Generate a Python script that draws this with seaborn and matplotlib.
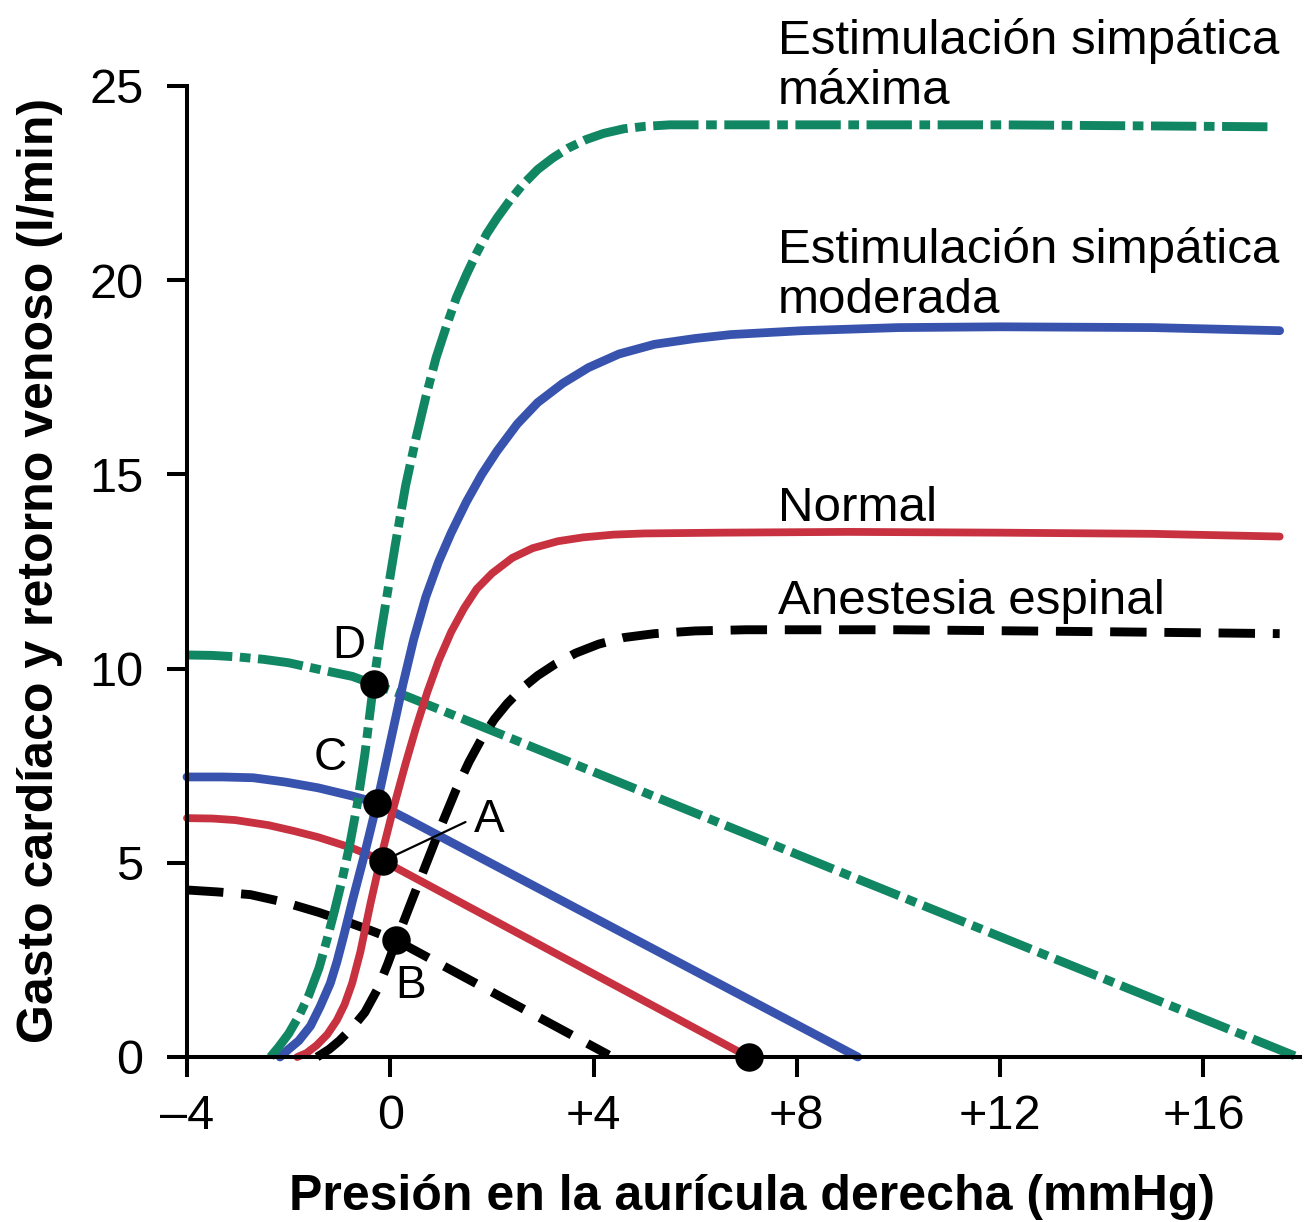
import matplotlib
matplotlib.use("Agg")
import matplotlib.pyplot as plt
import seaborn as sns
import pandas as pd

# ---------------- data ----------------
# Cardiac output curves (rising)
co_max_x = [-2.36, -2.2, -2.0, -1.8, -1.6, -1.4, -1.25, -1.1, -0.95, -0.8, -0.65, -0.5, -0.33, -0.2, -0.05, 0.1, 0.3, 0.5, 0.7, 0.9, 1.1, 1.3, 1.5, 1.7, 1.9, 2.1, 2.35, 2.6, 2.9, 3.2, 3.5, 3.85, 4.2, 4.6, 5.0, 5.5, 8.0, 12.0, 17.3]
co_max_y = [0.0, 0.25, 0.6, 1.05, 1.6, 2.3, 3.0, 3.75, 4.55, 5.45, 6.5, 7.8, 9.6, 10.8, 12.0, 13.2, 14.7, 15.9, 17.0, 18.0, 18.8, 19.55, 20.15, 20.7, 21.2, 21.6, 22.05, 22.45, 22.85, 23.15, 23.4, 23.62, 23.78, 23.9, 23.96, 24.0, 24.0, 24.0, 23.95]

co_mod_x = [-2.17, -2.0, -1.8, -1.57, -1.38, -1.18, -1.05, -0.92, -0.73, -0.53, -0.26, 0.0, 0.25, 0.46, 0.7, 0.95, 1.2, 1.5, 1.8, 2.1, 2.5, 2.9, 3.4, 3.9, 4.5, 5.2, 6.0, 6.7, 8.1, 10.0, 12.0, 15.0, 17.5]
co_mod_y = [0.0, 0.2, 0.42, 0.8, 1.3, 1.9, 2.45, 3.1, 4.1, 5.1, 6.54, 8.1, 9.6, 10.75, 11.85, 12.75, 13.5, 14.3, 15.0, 15.6, 16.3, 16.85, 17.35, 17.75, 18.1, 18.35, 18.5, 18.6, 18.7, 18.78, 18.8, 18.78, 18.7]

co_norm_x = [-1.83, -1.65, -1.45, -1.24, -1.05, -0.9, -0.75, -0.59, -0.39, -0.2, 0.06, 0.3, 0.5, 0.73, 0.95, 1.2, 1.45, 1.7, 2.0, 2.4, 2.8, 3.3, 3.8, 4.4, 5.0, 6.5, 9.0, 12.0, 15.0, 17.5]
co_norm_y = [0.0, 0.1, 0.3, 0.58, 0.95, 1.35, 1.9, 2.7, 3.95, 5.05, 6.4, 7.55, 8.45, 9.4, 10.2, 10.95, 11.55, 12.05, 12.45, 12.85, 13.1, 13.28, 13.38, 13.45, 13.48, 13.5, 13.52, 13.5, 13.47, 13.4]

co_spin_x = [-1.44, -1.2, -1.0, -0.75, -0.5, -0.25, -0.05, 0.12, 0.4, 0.7, 1.0, 1.3, 1.55, 1.8, 2.05, 2.3, 2.6, 2.9, 3.25, 3.65, 4.1, 4.6, 5.2, 6.0, 7.0, 10.0, 14.0, 17.5]
co_spin_y = [0.0, 0.2, 0.42, 0.75, 1.15, 1.75, 2.4, 3.0, 3.95, 4.95, 5.95, 6.9, 7.6, 8.2, 8.7, 9.1, 9.5, 9.82, 10.12, 10.4, 10.63, 10.8, 10.9, 10.97, 11.0, 11.0, 10.95, 10.9]

# Venous return curves (falling)
vr_max_x = [-4.0, -3.5, -3.0, -2.5, -2.0, -1.3, -0.75, -0.33, 0.3, 2.1, 5.7, 9.07, 17.85]
vr_max_y = [10.35, 10.34, 10.3, 10.24, 10.15, 9.95, 9.8, 9.6, 9.3, 8.35, 6.44, 4.65, 0.0]

vr_mod_x = [-4.0, -3.3, -2.7, -2.07, -1.42, -0.75, -0.5, -0.26, 0.0, 0.3, 9.2]
vr_mod_y = [7.21, 7.21, 7.19, 7.08, 6.93, 6.72, 6.63, 6.52, 6.35, 6.15, 0.0]

vr_norm_x = [-4.0, -3.5, -3.05, -2.4, -1.9, -1.42, -0.75, -0.14, 7.05]
vr_norm_y = [6.15, 6.14, 6.1, 5.97, 5.82, 5.66, 5.38, 5.05, 0.0]

vr_spin_x = [-4.0, -3.4, -2.75, -2.07, -1.4, -0.79, -0.35, 0.12, 4.3]
vr_spin_y = [4.3, 4.25, 4.18, 3.98, 3.72, 3.45, 3.24, 3.0, 0.05]

# Equilibrium points
pt_names = ["D", "C", "A", "B", ""]
pt_x = [-0.33, -0.26, -0.14, 0.12, 7.05]
pt_y = [9.6, 6.54, 5.05, 3.0, 0.0]

x_ticks = [-4, 0, 4, 8, 12, 16]
x_tick_labels = ["\u20134", "0", "+4", "+8", "+12", "+16"]
y_ticks = [0, 5, 10, 15, 20, 25]
y_tick_labels = ["0", "5", "10", "15", "20", "25"]

curve_labels = [["Estimulación simpática", "máxima"],
                ["Estimulación simpática", "moderada"],
                ["Normal"],
                ["Anestesia espinal"]]

x_title = "Presión en la aurícula derecha (mmHg)"
y_title = "Gasto cardíaco y retorno venoso (l/min)"

# ---------------- style ----------------
sns.set_theme(style="white")
plt.rcParams["font.family"] = ["Liberation Sans", "DejaVu Sans"]
plt.rcParams["text.color"] = "black"
plt.rcParams["axes.labelcolor"] = "black"

GREEN = "#118662"
BLUE = "#3853ad"
RED = "#c8313f"
BLACK = "#000000"

W, H = 1305, 1222
fig = plt.figure(figsize=(W / 100, H / 100), dpi=100)
ax = fig.add_axes([187 / W, 165 / H, 1113 / W, 971 / H])

green_ls = (0, (5.1, 0.85, 1.2, 0.85))
black_ls = (0, (4.1, 2.0))

def draw(xs, ys, color, lw, ls):
    df = pd.DataFrame({"x": xs, "y": ys})
    sns.lineplot(data=df, x="x", y="y", ax=ax, color=color, lw=lw,
                 linestyle=ls, sort=False, estimator=None, clip_on=False)

# venous return first, then cardiac output
draw(vr_spin_x, vr_spin_y, BLACK, 6.4, black_ls)
draw(vr_norm_x, vr_norm_y, RED, 5.6, "-")
draw(vr_mod_x, vr_mod_y, BLUE, 6.3, "-")
draw(vr_max_x, vr_max_y, GREEN, 6.4, green_ls)

draw(co_spin_x, co_spin_y, BLACK, 6.4, black_ls)
draw(co_norm_x, co_norm_y, RED, 5.6, "-")
draw(co_mod_x, co_mod_y, BLUE, 6.3, "-")
draw(co_max_x, co_max_y, GREEN, 6.4, green_ls)

# leader line for A
ax.plot([pt_x[2], 1.48], [pt_y[2], 6.05], color=BLACK, lw=1.6, zorder=5)

# equilibrium points
pts = pd.DataFrame({"x": pt_x, "y": pt_y})
sns.scatterplot(data=pts, x="x", y="y", ax=ax, color=BLACK, s=420,
                edgecolor=BLACK, linewidth=0, zorder=6, clip_on=False)

# point letters
lbl_fs = 33
ax.text(-0.81, 10.27, "D", fontsize=lbl_fs, ha="center", va="baseline", color=BLACK)
ax.text(-1.18, 7.39, "C", fontsize=lbl_fs, ha="center", va="baseline", color=BLACK)
ax.text(1.65, 5.79, "A", fontsize=lbl_fs, ha="left", va="baseline", color=BLACK)
ax.text(0.10, 1.52, "B", fontsize=lbl_fs, ha="left", va="baseline", color=BLACK)

# curve labels
txt_x = 7.62
txt_fs = 35.5
label_baselines = [[25.82, 24.54], [20.44, 19.16], [13.80], [11.41]]
for lines, bases in zip(curve_labels, label_baselines):
    for s, b in zip(lines, bases):
        ax.text(txt_x, b, s, fontsize=txt_fs, ha="left", va="baseline",
                color=BLACK, clip_on=False)

# axes
ax.set_xlim(-4, 17.9)
ax.set_ylim(0, 25)
ax.set_xticks(x_ticks)
ax.set_xticklabels(x_tick_labels)
ax.set_yticks(y_ticks)
ax.set_yticklabels(y_tick_labels)
ax.set_xlabel("")
ax.set_ylabel("")
for side in ["top", "right"]:
    ax.spines[side].set_visible(False)
for side in ["left", "bottom"]:
    ax.spines[side].set_color(BLACK)
    ax.spines[side].set_linewidth(2.9)
ax.tick_params(axis="both", which="major", direction="out", length=14.5,
               width=2.9, color=BLACK, labelsize=35, labelcolor=BLACK,
               left=True, bottom=True)
ax.tick_params(axis="x", pad=12)
ax.tick_params(axis="y", pad=17)
ax.grid(False)

# axis titles
fig.text(752 / W, 1 - 1210 / H, x_title, fontsize=36, fontweight="bold",
         ha="center", va="baseline", color=BLACK)
fig.text(53 / W, 1 - 570 / H, y_title, fontsize=36, fontweight="bold",
         ha="center", va="baseline", rotation=90, rotation_mode="anchor",
         color=BLACK)

fig.savefig("out.png", dpi=100, facecolor="white")
